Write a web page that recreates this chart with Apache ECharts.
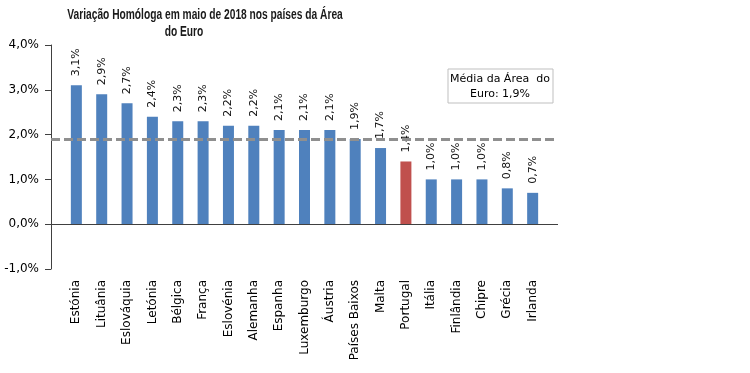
<!DOCTYPE html>
<html><head><meta charset="utf-8">
<script src="https://cdn.jsdelivr.net/npm/echarts@6/dist/echarts.min.js"></script>
<style>html,body{margin:0;padding:0;background:#fff}#c{width:750px;height:373px}</style>
</head><body><div id="c"></div>
<script>
const categories = ['Estónia','Lituânia','Eslováquia','Letónia','Bélgica','França','Eslovénia','Alemanha','Espanha','Luxemburgo','Áustria','Países Baixos','Malta','Portugal','Itália','Finlândia','Chipre','Grécia','Irlanda'];
const values = [3.1,2.9,2.7,2.4,2.3,2.3,2.2,2.2,2.1,2.1,2.1,1.9,1.7,1.4,1.0,1.0,1.0,0.8,0.7];
const euroAverage = 1.9;
const highlight = 'Portugal';
const yTicks = [-1,0,1,2,3,4];

const fmt = v => v.toFixed(1).replace('.', ',') + '%';
const chart = echarts.init(document.getElementById('c'));
const font = 'DejaVu Sans, Verdana, sans-serif';
const titleFont = 'Liberation Sans, Arial, sans-serif';
chart.setOption({
  animation: false,
  backgroundColor: '#fff',
  grid: {left: 51, right: 192, top: 45, height: 224},
  xAxis: {
    type: 'value', min: -1, max: 19, interval: 1,
    axisLine: {show: false}, axisTick: {show: false}, splitLine: {show: false},
    axisLabel: {rotate: 90, margin: 11, fontFamily: font, fontSize: 12, color: '#000',
      formatter: v => categories[v] || ''}
  },
  yAxis: {
    type: 'value', min: yTicks[0], max: yTicks[yTicks.length-1], interval: 1,
    axisLine: {show: true, onZero: false, lineStyle: {color: '#404040', width: 1}},
    axisTick: {show: true, length: 6, lineStyle: {color: '#404040'}},
    splitLine: {show: false},
    axisLabel: {margin: 12, fontFamily: font, fontSize: 12, color: '#000', formatter: v => fmt(v)}
  },
  graphic: [
    {type: 'text', x: 205, y: 8, scaleX: 0.73, style: {text: 'Variação Homóloga em maio de 2018 nos países da Área', textAlign: 'center', fontFamily: titleFont, fontWeight: 'bold', fontSize: 14, fill: '#1a1a1a'}},
    {type: 'text', x: 184, y: 25, scaleX: 0.73, style: {text: 'do Euro', textAlign: 'center', fontFamily: titleFont, fontWeight: 'bold', fontSize: 14, fill: '#1a1a1a'}},
    {type: 'rect', shape: {x: 448, y: 69, width: 105, height: 34}, style: {fill: '#fff', stroke: '#bfbfbf', lineWidth: 1}},
    {type: 'text', x: 500, y: 72, style: {text: 'Média da Área  do\nEuro: 1,9%', textAlign: 'center', fontFamily: font, fontSize: 11, lineHeight: 15, fill: '#000'}}
  ],
  series: [{
    type: 'bar', barWidth: 11,
    data: values.map((v, i) => ({value: [i, v], itemStyle: {color: categories[i] === highlight ? '#c0504d' : '#4f81bd'}})),
    label: {show: true, position: 'top', rotate: 90, align: 'left', verticalAlign: 'middle', distance: 9,
      fontFamily: font, fontSize: 11, color: '#111', formatter: p => fmt(p.value[1])},
    markLine: {
      silent: true, symbol: 'none', label: {show: false},
      data: [
        {yAxis: 0, lineStyle: {color: '#404040', width: 1, type: 'solid'}},
        {yAxis: euroAverage, lineStyle: {color: '#8f8f8f', width: 3, type: [9, 4]}}
      ]
    }
  }]
});
</script></body></html>
